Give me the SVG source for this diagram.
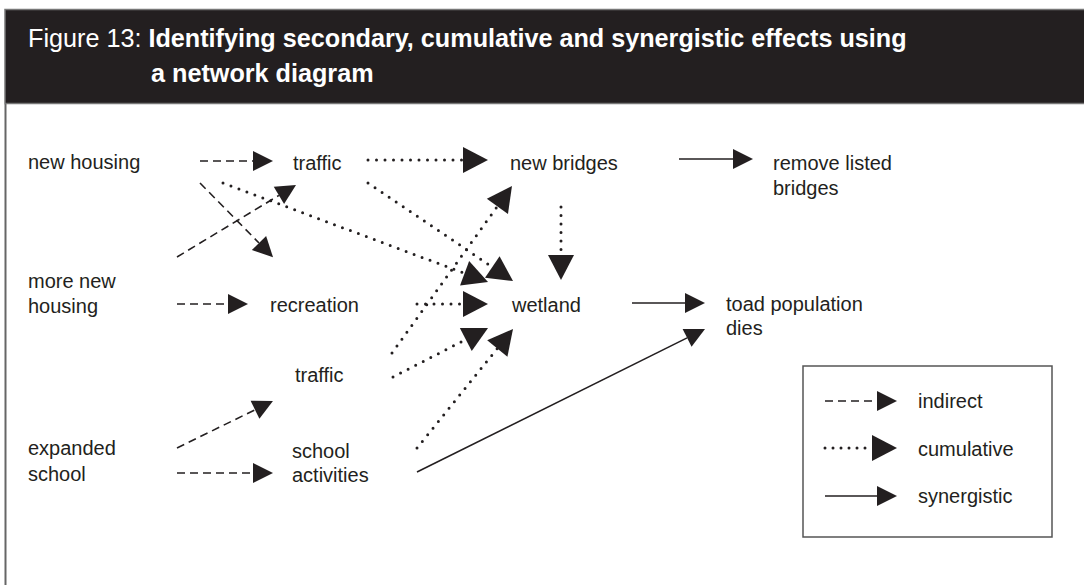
<svg xmlns="http://www.w3.org/2000/svg" width="1084" height="585" viewBox="0 0 1084 585">
<style>
.t{font-family:"Liberation Sans",Arial,Helvetica,sans-serif;font-size:20px;fill:#231f20}
.h{font-family:"Liberation Sans",Arial,Helvetica,sans-serif;font-size:25.2px;fill:#ffffff}
.b{font-weight:bold}
.dash{stroke:#231f20;stroke-width:1.6;fill:none;stroke-dasharray:8 5}
.dot{stroke:#231f20;stroke-width:3;fill:none;stroke-dasharray:0 8.5;stroke-linecap:round}
.sol{stroke:#231f20;stroke-width:1.6;fill:none}
.ind{marker-end:url(#hd)}
.cum{marker-end:url(#hc)}
.syn{marker-end:url(#hd)}
</style>
<defs>
<marker id="hd" markerUnits="userSpaceOnUse" markerWidth="20" markerHeight="20" refX="0" refY="10" orient="auto" overflow="visible">
<path d="M0,0 L20,10 L0,20 z" fill="#231f20"/>
</marker>
<marker id="hc" markerUnits="userSpaceOnUse" markerWidth="25" markerHeight="26" refX="0" refY="13" orient="auto" overflow="visible">
<path d="M0,0 L25,13 L0,26 z" fill="#231f20"/>
</marker>
</defs>
<rect x="0" y="0" width="1084" height="585" fill="#ffffff"/>
<g id="frame">
<line x1="5.5" y1="104" x2="5.5" y2="585" stroke="#666" stroke-width="2"/>
<rect x="5" y="9.5" width="1090" height="94" fill="#231f20" stroke="#777" stroke-width="1.5"/>
<text class="h" x="28" y="47">Figure 13: <tspan class="b">Identifying secondary, cumulative and synergistic effects using</tspan></text>
<text class="h b" x="151" y="82">a network diagram</text>
</g>
<g id="connectors">
<line class="dash ind" x1="200" y1="161" x2="253" y2="161"/>
<line class="dash ind" x1="177" y1="304" x2="228" y2="304"/>
<line class="dash ind" x1="177" y1="473" x2="253" y2="473"/>
<line class="dash ind" x1="200" y1="183" x2="259" y2="243"/>
<line class="dash ind" x1="177" y1="257" x2="278.9" y2="195.4"/>
<line class="dash ind" x1="177" y1="448" x2="255" y2="409.8"/>
<line class="dot cum" x1="368" y1="160" x2="463" y2="160"/>
<line class="dot cum" x1="561" y1="207" x2="561" y2="255"/>
<line class="dot cum" x1="417" y1="304" x2="463" y2="304"/>
<line class="dot cum" x1="223" y1="183" x2="464.6" y2="273.3"/>
<line class="dot cum" x1="368" y1="183" x2="492.3" y2="267"/>
<line class="dot cum" x1="392" y1="353" x2="497.4" y2="206.3"/>
<line class="dot cum" x1="393" y1="377" x2="465.8" y2="339.5"/>
<line class="dot cum" x1="417" y1="448" x2="497.3" y2="348.5"/>
<line class="sol syn" x1="679" y1="159" x2="733" y2="159"/>
<line class="sol syn" x1="632" y1="303" x2="685" y2="303"/>
<line class="sol syn" x1="417" y1="472" x2="687.1" y2="337.9"/>
</g>
<g id="n-new-housing"><text class="t" x="28" y="169">new housing</text></g>
<g id="n-traffic-top"><text class="t" x="293" y="170">traffic</text></g>
<g id="n-new-bridges"><text class="t" x="510" y="170">new bridges</text></g>
<g id="n-remove-listed"><text class="t" x="773" y="170">remove listed</text><text class="t" x="773" y="195">bridges</text></g>
<g id="n-more-new-housing"><text class="t" x="28" y="288">more new</text><text class="t" x="28" y="313">housing</text></g>
<g id="n-recreation"><text class="t" x="270" y="312">recreation</text></g>
<g id="n-wetland"><text class="t" x="512" y="312">wetland</text></g>
<g id="n-toad"><text class="t" x="726" y="311">toad population</text><text class="t" x="726" y="335">dies</text></g>
<g id="n-traffic-low"><text class="t" x="295" y="382">traffic</text></g>
<g id="n-expanded-school"><text class="t" x="28" y="455">expanded</text><text class="t" x="28" y="481">school</text></g>
<g id="n-school-activities"><text class="t" x="292" y="458">school</text><text class="t" x="292" y="482">activities</text></g>
<g id="legend">
<rect x="803" y="366" width="249" height="171" fill="none" stroke="#555" stroke-width="1.5"/>
<line class="dash ind" x1="825" y1="401" x2="877" y2="401"/>
<line class="dot cum" x1="825" y1="448" x2="872" y2="448" style="stroke-dasharray:0 8"/>
<line class="sol syn" x1="825" y1="496" x2="877" y2="496"/>
<text class="t" x="918" y="408">indirect</text>
<text class="t" x="918" y="456">cumulative</text>
<text class="t" x="918" y="503">synergistic</text>
</g>
</svg>
